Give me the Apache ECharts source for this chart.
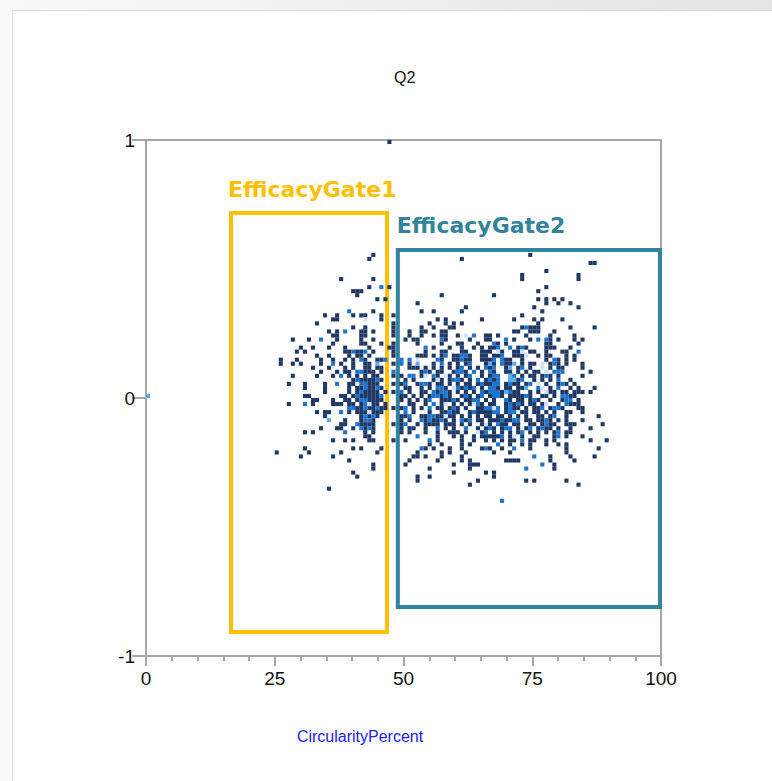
<!DOCTYPE html>
<html>
<head>
<meta charset="utf-8">
<script src="https://cdn.jsdelivr.net/npm/echarts@6/dist/echarts.min.js"></script>
<style>
  html, body { margin: 0; padding: 0; width: 772px; height: 781px; overflow: hidden;
    background: linear-gradient(to right, #f9f9f9, #e3e3e3); }
  #panel { position: absolute; left: 12px; top: 10px; right: 0; bottom: 0; background: #fff;
    border-top: 1px solid #dcdcdc; border-left: 1px solid #e2e2e2; }
  #chart { position: absolute; left: 0; top: 0; width: 772px; height: 781px; }
</style>
</head>
<body>
<div id="panel"></div>
<div id="chart"></div>
<script>
// ---- Data: binned density cells (column bin, row bin from top) on a 128 x 128 grid ----
const xBins = 128;            // CircularityPercent bins over 0..100
const yBins = 128;            // y bins over 1..-1
const xTicks = [0, 25, 50, 75, 100];
const yTicks = [-1, 0, 1];

// count level 1 (dark navy)
const navyCells = {
  0: [60],
  28: [56, 95], 29: [55, 78], 30: [110, 111], 32: [99], 33: [93, 107],
  34: [48, 56, 93, 107], 36: [55, 60, 99], 37: [51, 52, 53, 97], 38: [52, 73, 86],
  39: [57, 59, 97, 99, 101, 103], 40: [67, 99, 102, 105], 41: [79, 96, 107],
  42: [56, 68, 71, 78, 98],
  43: [44, 47, 51, 53, 54, 58, 61, 93],
  44: [46, 47, 58, 72, 74, 83, 91, 96, 98, 103],
  45: [42, 61, 70, 74, 76, 78, 97],
  46: [51, 54, 61, 68, 71, 75, 76, 93, 95, 96, 97, 105, 111],
  47: [45, 47, 53, 54, 56, 61, 65, 68, 69, 73, 74, 91, 92, 95, 96, 97, 101],
  48: [46, 47, 53, 54, 61, 65, 68, 71, 73, 74, 77, 84, 85, 87, 94, 100, 106],
  49: [36, 40, 47, 53, 56, 64, 66, 67, 74, 80, 84, 85, 91, 95, 100, 102, 106, 108],
  50: [46, 53, 54, 58, 61, 67, 73, 77, 78, 82, 87, 89, 99, 100, 107],
  51: [38, 41, 45, 49, 55, 60, 61, 71, 75, 78, 81, 83, 85, 86, 92, 94, 99, 100, 101, 105],
  52: [37, 39, 49, 50, 52, 53, 56, 61, 69, 73, 74, 78, 79, 83, 84, 85, 88, 91, 92, 95, 96, 99, 103, 104],
  53: [42, 45, 50, 52, 53, 55, 61, 67, 68, 69, 71, 73, 76, 77, 80, 83, 84, 86, 87, 91, 92, 93, 97, 99, 100, 104, 106],
  54: [33, 37, 43, 46, 49, 51, 54, 57, 58, 73, 76, 77, 79, 80, 83, 84, 85, 89, 90, 93, 99, 102, 104, 106],
  55: [33, 36, 38, 43, 48, 51, 54, 55, 61, 65, 71, 75, 77, 79, 84, 86, 89, 90, 93, 95, 96, 100, 102, 104, 108],
  56: [41, 45, 49, 51, 54, 55, 57, 58, 65, 66, 67, 69, 71, 73, 75, 77, 80, 82, 85, 89, 92, 95, 100, 102, 103, 108],
  57: [43, 47, 49, 50, 54, 55, 56, 58, 68, 70, 72, 73, 76, 79, 83, 86, 89, 90, 92, 94, 96, 97, 110],
  58: [36, 42, 46, 50, 52, 54, 56, 57, 61, 63, 68, 72, 75, 77, 79, 83, 85, 93, 95, 96, 98, 100, 102, 108],
  59: [51, 53, 54, 55, 56, 58, 64, 66, 71, 73, 75, 78, 80, 84, 86, 92, 96, 98, 100, 105],
  60: [35, 39, 44, 50, 51, 55, 56, 57, 61, 63, 67, 70, 72, 73, 75, 77, 79, 80, 82, 84, 85, 89, 91, 92, 94, 99, 102, 104, 106],
  61: [39, 44, 50, 52, 53, 55, 56, 58, 64, 65, 68, 70, 74, 78, 80, 83, 87, 89, 90, 92, 93, 100, 105, 107, 111],
  62: [44, 50, 52, 54, 55, 56, 57, 59, 61, 65, 68, 69, 72, 75, 77, 79, 81, 84, 88, 91, 92, 95, 97, 100, 101, 103, 104, 106, 107, 108, 110],
  63: [39, 40, 48, 49, 51, 53, 54, 55, 56, 57, 63, 64, 66, 68, 70, 73, 75, 78, 80, 82, 85, 88, 90, 91, 92, 93, 95, 98, 99, 101, 105, 106],
  64: [41, 42, 46, 49, 50, 52, 55, 56, 57, 58, 63, 65, 67, 69, 73, 74, 75, 77, 79, 80, 84, 86, 90, 92, 93, 95, 97, 100, 103, 107],
  65: [35, 41, 46, 47, 48, 50, 51, 53, 56, 57, 59, 65, 66, 69, 73, 76, 78, 80, 83, 85, 86, 89, 91, 93, 95, 96, 98, 102, 105, 106, 107],
  66: [52, 53, 55, 56, 58, 59, 61, 63, 66, 68, 72, 73, 75, 77, 79, 82, 83, 89, 91, 92, 94, 96, 97, 100, 103, 107, 108],
  67: [42, 44, 45, 50, 52, 53, 54, 56, 57, 58, 66, 70, 73, 74, 76, 77, 80, 82, 83, 84, 85, 89, 93, 94, 96, 97, 99, 101, 104, 105, 108],
  68: [44, 53, 55, 57, 63, 64, 68, 69, 72, 73, 75, 76, 78, 80, 82, 84, 85, 87, 88, 90, 92, 94, 97, 98, 100, 104, 112],
  69: [49, 53, 56, 63, 65, 69, 71, 72, 74, 76, 79, 82, 83, 85, 86, 87, 89, 90, 94, 95, 97, 98, 100, 102, 104, 108],
  70: [48, 49, 53, 54, 55, 56, 61, 63, 67, 69, 70, 71, 72, 74, 75, 76, 78, 80, 83, 85, 88, 89, 91, 92, 95, 96, 98, 100, 101, 104, 105, 106, 113],
  71: [43, 47, 48, 51, 54, 56, 63, 65, 66, 69, 74, 76, 82, 84, 86, 88, 92, 94, 97, 99, 100, 102, 105, 110],
  72: [39, 41, 54, 56, 63, 65, 69, 72, 75, 76, 77, 79, 83, 86, 88, 90, 92, 95, 97, 99, 101, 104, 105],
  73: [54, 55, 72, 76, 78, 81, 83, 84, 86, 85, 87, 90, 93, 96, 97, 101, 104, 108],
  74: [46, 49, 51, 55, 56, 61, 64, 72, 78, 81, 84, 86, 88, 90, 91, 95, 96, 99, 101, 110, 114],
  75: [70, 73, 78, 80, 90, 93, 95, 99, 102, 104],
  76: [39, 51, 53, 58, 69, 71, 75, 78, 83, 85, 88, 95, 104, 112],
  77: [32, 40, 48, 57, 67, 73, 75, 79, 86, 90, 104],
  78: [38, 46, 66, 67, 69, 73, 78, 100, 105, 111],
  79: [50, 65, 72, 78, 80, 89, 90, 91, 92, 100, 106],
  80: [56, 64, 76, 80, 81, 82, 101],
  81: [56, 70, 80, 101],
  82: [51, 76, 84, 86],
  83: [52, 67, 70, 86],
  84: [67, 82, 94, 96, 104],
  85: [80, 107],
  86: [45]
};

// count level 2 (medium blue)
const blueCells = {
  36: [58], 42: [50], 46: [94], 47: [49], 48: [81],
  49: [43, 73, 89, 97, 99], 50: [86], 51: [69, 87, 90, 93], 52: [51, 54, 107],
  53: [74, 78, 79, 88], 54: [53, 59, 63, 65, 72, 78, 86, 88, 101],
  55: [46, 63, 73, 80, 88, 101], 56: [78, 84, 86, 93],
  57: [52, 53, 61, 69, 77, 78, 81, 85, 101, 102, 103],
  58: [48, 65, 66, 71, 80, 86, 87, 91, 99],
  59: [52, 57, 76, 77, 82, 85, 87, 93, 102],
  60: [47, 53, 54, 64, 68, 69, 83, 86, 87, 90, 95, 103],
  61: [54, 57, 72, 73, 77, 79, 81, 85, 86, 97, 102],
  62: [53, 63, 71, 73, 74, 83, 85, 86, 87, 90],
  63: [52, 58, 71, 72, 74, 79, 83, 86, 87, 94, 103, 104],
  64: [53, 54, 70, 76, 81, 82, 89, 96, 104, 105],
  65: [39, 54, 71, 82, 90, 92, 104],
  66: [50, 51, 54, 57, 64, 70, 76, 84, 85, 86, 87, 90, 98, 101, 102],
  67: [48, 64, 75, 81, 86, 87, 90, 91],
  68: [54, 56, 65, 70, 71, 101],
  69: [54, 55, 68, 70, 73, 78, 80, 88, 91, 92, 99],
  70: [52, 64, 87, 99],
  71: [53, 55, 72, 79, 85, 89, 90, 95, 98],
  72: [49, 84, 93, 102], 73: [67, 88, 102], 74: [70, 93], 75: [87],
  76: [68, 84, 91], 78: [96], 80: [98], 81: [94], 89: [88]
};

// count level 3 (light blue)
const lightCells = {
  55: [57, 67, 85, 91], 56: [90], 58: [90], 59: [90, 91], 61: [94], 62: [89],
  63: [0], 69: [45]
};

// count level 4 (pale blue)
const paleCells = {
  44: [54], 48: [79], 52: [87, 93], 53: [94], 54: [67], 55: [98], 56: [98], 57: [99],
  58: [69, 74], 59: [72], 60: [97], 61: [76, 98], 62: [99],
  65: [55, 74, 81, 99], 66: [86], 67: [55], 68: [74], 70: [84], 72: [82], 73: [91]
};

// gates: [xMin, yMax, xMax, yMin]
const gateNames = ['EfficacyGate1', 'EfficacyGate2'];
const gateBounds = [[16.5, 0.717, 46.8, -0.907], [48.9, 0.574, 99.8, -0.81]];
const gateColors = ['#FFC000', '#31849B'];

const xMin = 0, xMax = 100, yMin = -1, yMax = 1;

function toPoints(cells) {
  const pts = [];
  Object.keys(cells).forEach(function (r) {
    cells[r].forEach(function (c) {
      pts.push([
        xMin + (c + 0.5) * (xMax - xMin) / xBins,
        yMax - (Number(r) + 0.5) * (yMax - yMin) / yBins
      ]);
    });
  });
  return pts;
}

const chart = echarts.init(document.getElementById('chart'), null, { renderer: 'svg' });

const cellSize = 4.1;
function cellSeries(name, cells, color) {
  return {
    name: name, type: 'scatter', data: toPoints(cells), symbol: 'rect',
    symbolSize: [cellSize, cellSize], itemStyle: { color: color, opacity: 1 },
    silent: true, animation: false, z: 2
  };
}

const axisColor = '#a6a6a6';
const series = [
  cellSeries('n1', navyCells, '#1f3864'),
  cellSeries('n2', blueCells, '#1f74cc'),
  cellSeries('n3', lightCells, '#5ea8ec'),
  cellSeries('n4', paleCells, '#cfe2f7')
];

const labelOffsets = [[-1, -33], [1, -33]];
gateNames.forEach(function (g, i) {
  const b = gateBounds[i];
  series.push({
    name: g, type: 'scatter', data: [], z: 5, animation: false, silent: true,
    markArea: {
      silent: true, animation: false,
      itemStyle: { color: 'rgba(0,0,0,0)', borderColor: gateColors[i], borderWidth: 4 },
      label: {
        show: true, position: labelOffsets[i], color: gateColors[i],
        fontFamily: 'DejaVu Sans', fontWeight: 'bold', fontSize: 22
      },
      data: [[{ name: g, coord: [b[0], b[1]] }, { coord: [b[2], b[3]] }]]
    }
  });
});

chart.setOption({
  animation: false,
  backgroundColor: 'transparent',
  title: {
    text: 'Q2', left: 389, top: 64,
    textStyle: { fontSize: 16, fontWeight: 'normal', color: '#111', fontFamily: 'Liberation Sans' }
  },
  grid: { left: 146, top: 140, width: 515, height: 516, show: true, borderColor: axisColor, borderWidth: 2 },
  xAxis: {
    type: 'value', min: xTicks[0], max: xTicks[xTicks.length - 1], interval: 25,
    axisLine: { show: true, onZero: false, lineStyle: { color: axisColor, width: 2 } },
    axisTick: { show: true, length: 10, lineStyle: { color: axisColor, width: 2 } },
    minorTick: { show: true, splitNumber: 5, length: 5, lineStyle: { color: axisColor, width: 2 } },
    splitLine: { show: false },
    axisLabel: { fontSize: 19, color: '#111', margin: 13, fontFamily: 'Liberation Sans' },
    name: 'CircularityPercent', nameLocation: 'middle', nameGap: 72,
    nameTextStyle: { color: '#2020f0', fontSize: 16, fontFamily: 'Liberation Sans', padding: [0, 87, 0, 0] }
  },
  yAxis: {
    type: 'value', min: yTicks[0], max: yTicks[yTicks.length - 1], interval: 1,
    axisLine: { show: true, onZero: false, lineStyle: { color: axisColor, width: 2 } },
    axisTick: { show: true, length: 14, lineStyle: { color: axisColor, width: 2 } },
    splitLine: { show: false },
    axisLabel: { fontSize: 19, color: '#111', margin: 11, fontFamily: 'Liberation Sans' }
  },
  series: series
});
</script>
</body>
</html>
